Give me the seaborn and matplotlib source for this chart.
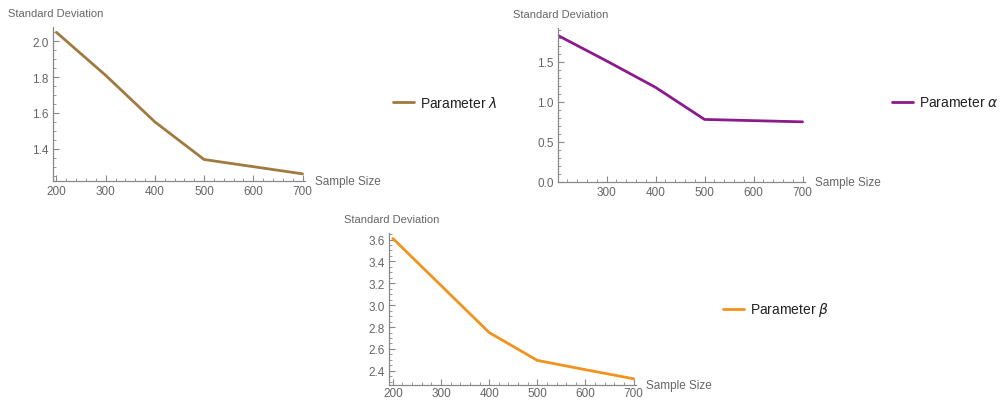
import matplotlib
matplotlib.use("Agg")
import matplotlib.pyplot as plt
import seaborn as sns
import pandas as pd
from matplotlib.ticker import MultipleLocator
from matplotlib.lines import Line2D

sample_size = [200, 300, 400, 500, 600, 700]
sd_lambda = [2.05, 1.81, 1.55, 1.34, 1.30, 1.26]
sd_alpha = [1.83, 1.51, 1.18, 0.78, 0.765, 0.75]
sd_beta = [3.61, 3.18, 2.75, 2.495, 2.41, 2.327]

labels = [r"Parameter $\lambda$", r"Parameter $\alpha$", r"Parameter $\beta$"]
colors = ["#a07a3e", "#8c1a8c", "#f2921f"]

sns.set_style("white")
plt.rcParams["font.family"] = ["Liberation Sans", "DejaVu Sans"]
plt.rcParams["mathtext.fontset"] = "dejavusans"

W, H = 1001, 402
fig = plt.figure(figsize=(W / 100, H / 100), dpi=100)

def px_axes(l, t, r, b):
    return fig.add_axes([l / W, 1 - b / H, (r - l) / W, (b - t) / H])

grey = "#888888"
tcol = "#666666"

specs = [
    dict(box=(53, 28, 305, 182), xlim=(193, 705), ylim=(1.22, 2.08), ymin=0.05,
         xt=[200, 300, 400, 500, 600, 700], yt=[1.4, 1.6, 1.8, 2.0],
         data=sd_lambda, leg=(393, 103), xpad=3),
    dict(box=(558, 29, 805, 183), xlim=(201, 705), ylim=(0.0, 1.92), ymin=0.1,
         xt=[300, 400, 500, 600, 700], yt=[0.0, 0.5, 1.0, 1.5],
         data=sd_alpha, leg=(892, 103), xpad=3),
    dict(box=(389, 234, 636, 386), xlim=(192, 705), ylim=(2.27, 3.66), ymin=0.05,
         xt=[200, 300, 400, 500, 600, 700], yt=[2.4, 2.6, 2.8, 3.0, 3.2, 3.4, 3.6],
         data=sd_beta, leg=(723, 310), xpad=1.5),
]

for i, s in enumerate(specs):
    l, t, r, b = s["box"]
    ax = px_axes(l, t, r, b)
    df = pd.DataFrame({"Sample Size": sample_size, "SD": s["data"]})
    sns.lineplot(data=df, x="Sample Size", y="SD", ax=ax, color=colors[i], linewidth=2.0)
    ax.set_xlim(*s["xlim"])
    ax.set_ylim(*s["ylim"])
    ax.set_xlabel("")
    ax.set_ylabel("")
    for sp in ["top", "right"]:
        ax.spines[sp].set_visible(False)
    for sp in ["left", "bottom"]:
        ax.spines[sp].set_color(grey)
        ax.spines[sp].set_linewidth(0.9)
    ax.set_xticks(s["xt"])
    ax.set_yticks(s["yt"])
    ax.set_yticklabels(["%.1f" % v for v in s["yt"]])
    ax.xaxis.set_minor_locator(MultipleLocator(20))
    ax.yaxis.set_minor_locator(MultipleLocator(s["ymin"]))
    ax.tick_params(axis="both", which="major", direction="in", length=4, width=0.8,
                   color=grey, labelcolor=tcol, labelsize=8.5, pad=3)
    ax.tick_params(axis="x", which="major", pad=s["xpad"])
    ax.tick_params(axis="both", which="minor", direction="in", length=2, width=0.6, color=grey)
    ax.tick_params(axis="both", which="both", bottom=True, left=True)
    fig.text((l - 45) / W, 1 - (t - 14) / H, "Standard Deviation", fontsize=8, color=tcol,
             va="center", ha="left")
    fig.text((r + 10) / W, 1 - b / H, "Sample Size", fontsize=8.5, color=tcol,
             va="center", ha="left")
    lx, ly = s["leg"]
    fig.add_artist(Line2D([lx / W, (lx + 21) / W], [1 - ly / H, 1 - ly / H],
                          color=colors[i], linewidth=2.0, transform=fig.transFigure))
    fig.text((lx + 27) / W, 1 - ly / H, labels[i], fontsize=10, color="#222222",
             va="center", ha="left")

fig.savefig("out.png", dpi=100, facecolor="white")
